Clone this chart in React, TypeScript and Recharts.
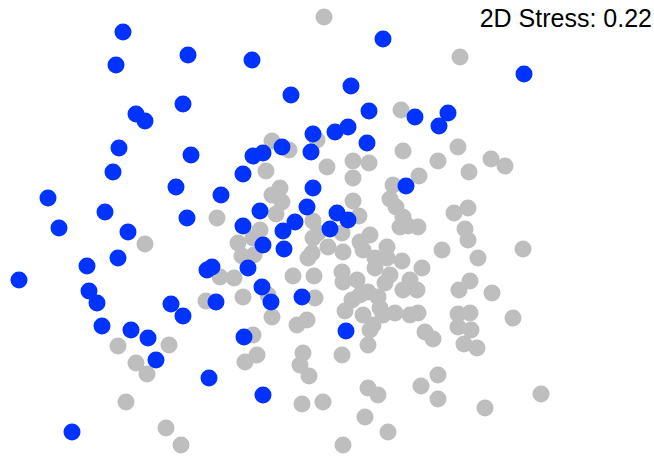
import React from "react";
import { ScatterChart, Scatter, XAxis, YAxis } from "recharts";

// NMDS site scores (NMDS1, NMDS2)
const blueSites: [number, number][] = [
  [-2.07, 1.98], [-1.42, 1.75], [-0.78, 1.70], [-2.14, 1.65], [0.53, 1.91],
  [1.94, 1.56], [-1.47, 1.26], [-1.94, 1.16], [-1.85, 1.09], [-0.39, 1.35],
  [0.21, 1.44], [0.39, 1.19], [0.85, 1.13], [1.18, 1.17], [1.09, 1.04],
  [-0.17, 0.96], [0.05, 0.98], [0.18, 1.03], [0.37, 0.87], [-0.48, 0.83],
  [-0.19, 0.78], [-0.77, 0.74], [-0.67, 0.77], [-2.11, 0.82], [-1.39, 0.75],
  [-2.17, 0.58], [-1.54, 0.43], [-0.87, 0.56], [-1.09, 0.35], [-0.17, 0.42],
  [0.76, 0.44], [-2.82, 0.32], [-2.25, 0.18], [-1.43, 0.12], [-0.70, 0.19],
  [-0.23, 0.23], [0.07, 0.17], [0.18, 0.10], [-2.71, 0.02], [-2.02, -0.02],
  [-0.87, 0.04], [-0.35, 0.08], [-0.47, -0.01], [0.0, 0.01], [-2.12, -0.28],
  [-2.43, -0.36], [-3.11, -0.5], [-0.67, -0.15], [-0.46, -0.19], [-2.41, -0.61],
  [-2.33, -0.73], [-1.59, -0.74], [-1.47, -0.86], [-1.23, -0.4], [-1.18, -0.37],
  [-0.82, -0.38], [-0.68, -0.57], [-0.59, -0.72], [-0.28, -0.67], [-1.14, -0.72],
  [-2.28, -0.96], [-1.99, -1.0], [-1.82, -1.08], [-1.74, -1.3], [0.16, -1.01],
  [-0.86, -1.07], [-1.21, -1.48], [-0.67, -1.65], [-2.58, -2.02],
];

const graySites: [number, number][] = [
  [-0.06, 2.13], [1.3, 1.73], [0.71, 1.2], [-0.58, 0.89], [-0.41, 0.8],
  [-0.13, 0.9], [-0.64, 0.59], [-0.03, 0.63], [0.23, 0.69], [0.39, 0.67],
  [0.73, 0.79], [1.28, 0.83], [1.08, 0.69], [0.89, 0.54], [1.39, 0.58],
  [1.61, 0.71], [1.75, 0.64], [0.23, 0.52], [-0.5, 0.42], [-0.58, 0.35],
  [-0.48, 0.28], [-0.54, 0.16], [0.63, 0.45], [0.6, 0.31], [0.66, 0.23],
  [0.23, 0.29], [-1.13, 0.12], [-0.17, 0.09], [0.29, 0.14], [0.73, 0.13],
  [0.78, 0.04], [0.88, 0.03], [1.24, 0.17], [1.38, 0.22], [1.35, 0.01],
  [1.38, -0.1], [-0.7, 0.0], [-0.77, -0.08], [-0.92, -0.13], [-0.12, -0.03],
  [0.12, -0.03], [-0.17, -0.08], [0.4, -0.05], [0.7, 0.03], [0.3, -0.12],
  [0.33, -0.2], [0.13, -0.22], [-0.02, -0.17], [0.57, -0.17], [0.45, -0.28],
  [0.57, -0.28], [0.72, -0.31], [0.92, -0.38], [-0.18, -0.23], [-0.22, -0.28],
  [-0.88, -0.26], [-0.76, -0.25], [-1.85, -0.14], [-1.1, -0.47], [-0.96, -0.48],
  [-0.37, -0.46], [-0.16, -0.46], [0.12, -0.42], [0.13, -0.52], [0.27, -0.5],
  [0.45, -0.38], [0.6, -0.45], [0.55, -0.53], [0.8, -0.5], [0.87, -0.6],
  [0.73, -0.6], [-0.62, -0.65], [-0.87, -0.67], [-1.24, -0.71], [-0.15, -0.68],
  [0.22, -0.7], [0.3, -0.65], [0.38, -0.62], [0.48, -0.67], [-0.58, -0.87],
  [-0.33, -0.95], [-0.23, -0.9], [0.15, -0.81], [0.33, -0.85], [0.5, -0.78],
  [0.53, -0.85], [0.65, -0.83], [0.8, -0.85], [0.88, -0.83], [0.43, -0.95],
  [0.4, -1.0], [0.95, -1.02], [1.03, -1.09], [-0.77, -1.05], [-2.12, -1.16],
  [-1.61, -1.15], [-1.94, -1.33], [-1.83, -1.44], [-0.73, -1.25], [-0.85, -1.32],
  [-0.27, -1.23], [-0.3, -1.35], [-0.21, -1.46], [0.12, -1.25], [0.38, -1.15],
  [-2.04, -1.72], [-1.64, -1.98], [-1.49, -2.15], [-0.28, -1.74], [-0.07, -1.72],
  [0.38, -1.58], [0.48, -1.65], [0.35, -1.87], [0.58, -2.02], [0.13, -2.15],
  [0.91, -1.56], [1.08, -1.45], [1.08, -1.69], [1.12, -0.2], [1.48, -0.28],
  [1.93, -0.19], [1.29, -0.6], [1.4, -0.51], [1.62, -0.63], [1.28, -0.84],
  [1.4, -0.83], [1.28, -0.97], [1.41, -1.0], [1.83, -0.88], [1.34, -1.14],
  [1.47, -1.18], [2.11, -1.64], [1.55, -1.78],
];

const stressLabel = "2D Stress: 0.22";

const toPoints = (sites: [number, number][]) =>
  sites.map(([x, y]) => ({ x, y }));

const dot = (color: string) => (props: any) =>
  <circle cx={props.cx} cy={props.cy} r={8.5} fill={color} />;

export default function App() {
  return (
    <div style={{ position: "absolute", left: 0, top: 0, width: 654, height: 456, background: "#fff" }}>
      <ScatterChart width={654} height={456} margin={{ top: 0, right: 0, bottom: 0, left: 0 }}>
        <XAxis type="number" dataKey="x" hide domain={[-3.3, 3.24]} allowDataOverflow />
        <YAxis type="number" dataKey="y" hide domain={[-2.26, 2.3]} allowDataOverflow />
        <Scatter data={toPoints(graySites)} shape={dot("#bebebe")} isAnimationActive={false} />
        <Scatter data={toPoints(blueSites)} shape={dot("#0033ff")} isAnimationActive={false} />
      </ScatterChart>
      <div
        style={{
          position: "absolute",
          right: 2,
          top: 6,
          fontFamily: "'Liberation Sans', Arial, sans-serif",
          fontSize: 25,
          lineHeight: "25px",
          color: "#000",
        }}
      >
        {stressLabel}
      </div>
    </div>
  );
}
